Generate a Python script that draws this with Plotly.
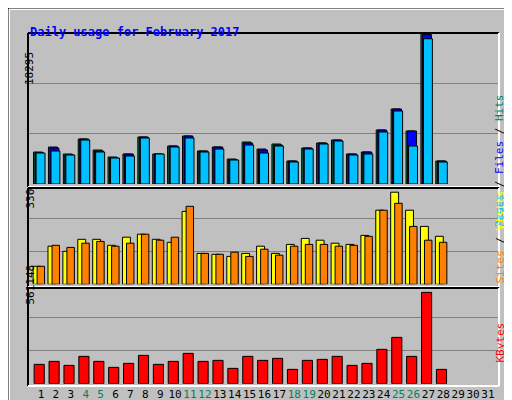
"""Daily usage for February 2017 (style webalizer)"""

from plotly.graph_objects import Bar, Figure

# donnees
days = list(range(1, 29))
hits = [3877, 4483, 3635, 5452, 4119, 3271, 3635, 5695, 3635, 4604, 5816, 3998, 4483, 3029,
        5089, 4241, 4846, 2787, 4362, 4968, 5331, 3635, 3877, 6543, 9087, 6421, 18295, 2787]
files = [3756, 4362, 3514, 5452, 3998, 3150, 3635, 5695, 3635, 4604, 5816, 3998, 4483, 2908,
         4968, 4119, 4725, 2787, 4362, 4968, 5331, 3635, 3877, 6543, 9087, 6421, 18100, 2787]
pages = [3756, 3998, 3514, 5331, 3877, 3150, 3392, 5573, 3635, 4483, 5573, 3877, 4241, 2908,
         4725, 3756, 4604, 2666, 4241, 4846, 5210, 3514, 3635, 6300, 8845, 4604, 17600, 2666]
visits = [60, 127, 110, 150, 150, 130, 157, 167, 150, 140, 243, 103, 100, 93,
          103, 127, 103, 133, 153, 147, 137, 133, 163, 247, 307, 247, 193, 160]
sites = [60, 130, 123, 137, 143, 127, 137, 167, 147, 157, 260, 103, 100, 107,
         93, 117, 97, 127, 133, 133, 127, 130, 160, 247, 270, 193, 147, 140]
kbytes = [109600, 126600, 103900, 154900, 126600, 92600, 115300, 160600, 109600, 126600,
          171900, 126600, 132300, 86900, 154900, 132300, 143600, 81200, 132300, 137900,
          154900, 103900, 115300, 194600, 262600, 154900, 517700, 81200]
max_hits, max_visits, max_kbytes = 18295, 330, 561148
weekend = [4, 5, 11, 12, 18, 19, 25, 26]

GREEN, BLUE, CYAN = "#00805c", "#0000ff", "#00c0ff"
YELLOW, ORANGE, RED = "#ffff00", "#ff8000", "#ff0000"
GRAY = "#c0c0c0"
FONT = "DejaVu Sans Mono"

W, H = 512, 400


def px(y):
    """pixel vertical -> coordonnee papier"""
    return 1 - y / H


def bar(y, color, off, width, axis):
    return Bar(x=days, y=y, offset=off, width=width, yaxis=axis, marker_color=color,
               marker_line_color="black", marker_line_width=1, hoverinfo="skip")


fig = Figure()
fig.add_trace(bar(hits, GREEN, -0.5, 0.6, "y"))
fig.add_trace(bar(files, BLUE, -0.4, 0.6, "y"))
fig.add_trace(bar(pages, CYAN, -0.33, 0.6, "y"))
fig.add_trace(bar(visits, YELLOW, -0.53, 0.53, "y2"))
fig.add_trace(bar(sites, ORANGE, -0.26, 0.5, "y2"))
fig.add_trace(bar(kbytes, RED, -0.46, 0.68, "y3"))

ticktext = []
for d in range(1, 32):
    if d in weekend:
        ticktext.append(f'<span style="color:{GREEN}">{d}</span>')
    else:
        ticktext.append(str(d))


def yax(dom, top):
    return dict(domain=dom, range=[0, top], tickvals=[top / 3, 2 * top / 3],
                showticklabels=False, gridcolor="#808080", gridwidth=1, automargin=False,
                zeroline=False, showline=False, anchor="x", fixedrange=True)


fig.update_layout(
    width=W, height=H, margin=dict(l=0, r=0, t=0, b=0, autoexpand=False),
    paper_bgcolor=GRAY, plot_bgcolor=GRAY, showlegend=False, barmode="overlay",
    font=dict(family=FONT, size=11, color="black"),
    xaxis=dict(domain=[20.7 / W, 490.7 / W], range=[0.175, 31.72], anchor="y3",
               tickvals=list(range(1, 32)), ticktext=ticktext, showgrid=False,
               tickangle=0, automargin=False, ticklabelstandoff=2,
               zeroline=False, ticks="", tickfont=dict(family=FONT, size=11)),
    yaxis=yax([px(176), px(25)], max_hits),
    yaxis2=yax([px(276.3), px(177.3)], max_visits),
    yaxis3=yax([px(375.7), px(276.7)], max_kbytes),
)

# cadres
shapes = []


def bevel(x0, y0, x1, y1, tl, br):
    shapes.append(dict(type="line", xref="paper", yref="paper", x0=x0 / W, x1=x1 / W,
                       y0=px(y0), y1=px(y0), line=dict(color=tl, width=2)))
    shapes.append(dict(type="line", xref="paper", yref="paper", x0=x0 / W, x1=x0 / W,
                       y0=px(y0), y1=px(y1), line=dict(color=tl, width=2)))
    shapes.append(dict(type="line", xref="paper", yref="paper", x0=x0 / W, x1=x1 / W,
                       y0=px(y1), y1=px(y1), line=dict(color=br, width=2)))
    shapes.append(dict(type="line", xref="paper", yref="paper", x0=x1 / W, x1=x1 / W,
                       y0=px(y0), y1=px(y1), line=dict(color=br, width=2)))


bevel(1, 1, 511, 399, "white", "#808080")
bevel(20, 25, 491, 179, "black", "white")
bevel(20, 180, 491, 279, "black", "white")
bevel(20, 280, 491, 378, "black", "white")
shapes.append(dict(type="rect", xref="paper", yref="paper", x0=0, x1=1, y0=0, y1=1,
                   line=dict(color="black", width=1)))
fig.update_layout(shapes=shapes)

ann = [
    dict(x=20 / W, y=px(15), text="<b>Daily usage for February 2017</b>", xanchor="left",
         font=dict(color="#0000ff", size=12)),
    dict(x=13 / W, y=px(42), text="18295", textangle=-90),
    dict(x=13 / W, y=px(191), text="330", textangle=-90),
    dict(x=13 / W, y=px(299), text="561148", textangle=-90),
    dict(x=500 / W, y=px(84), textangle=-90,
         text=f'<span style="color:{CYAN}">Pages</span> / '
              f'<span style="color:{BLUE}">Files</span> / '
              f'<span style="color:{GREEN}">Hits</span>'),
    dict(x=500 / W, y=px(229), textangle=-90,
         text=f'<span style="color:{ORANGE}">Sites</span> / '
              f'<span style="color:{YELLOW}">Visits</span>'),
    dict(x=500 / W, y=px(357), textangle=-90,
         text=f'<span style="color:{RED}">KBytes</span>'),
]
for a in ann:
    a.update(xref="paper", yref="paper", showarrow=False)
    a.setdefault("font", dict(size=11))
    a["font"].setdefault("family", FONT)
fig.update_layout(annotations=ann)

fig.write_html("out.html")
